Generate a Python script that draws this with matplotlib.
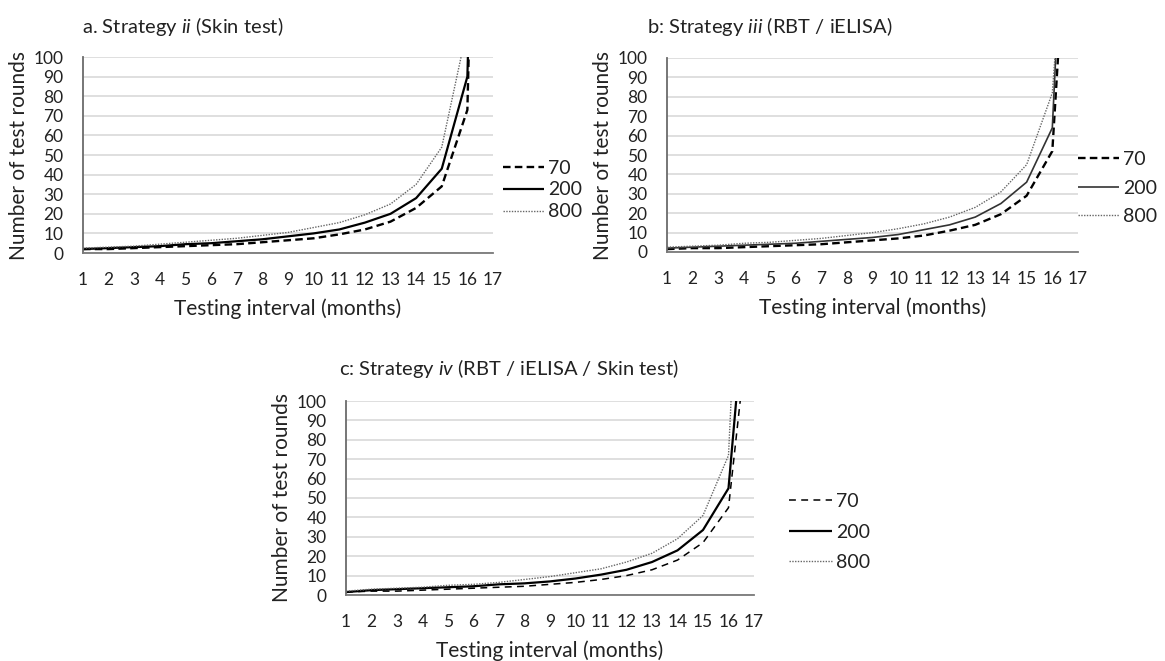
import numpy as np
import matplotlib.pyplot as plt

plt.rcParams['font.family'] = ['Lato', 'DejaVu Sans']
plt.rcParams['mathtext.fontset'] = 'custom'
plt.rcParams['mathtext.rm'] = 'Lato'
plt.rcParams['mathtext.it'] = 'Lato:italic'

# testing interval (months); last point is the off-scale tail past 16
months = [1, 2, 3, 4, 5, 6, 7, 8, 9, 10, 11, 12, 13, 14, 15, 16, 16.5]
xticks = list(range(1, 18))
series_labels = ['70', '200', '800']

# a. Strategy ii (Skin test)
a_70 = [2, 2, 2.5, 3, 3.5, 4, 4.5, 5.5, 6.5, 7.5, 9.5, 12, 16, 23, 34, 73, 343]
a_200 = [2, 2.5, 3, 3.5, 4.5, 5, 6, 7, 8.5, 10, 12, 15.5, 20, 28, 43, 90, 340]
a_800 = [2.5, 3, 3.5, 4.5, 5.5, 6.5, 7.5, 9, 10.5, 13, 15.5, 19.5, 25, 35, 54, 115, 400]

# b: Strategy iii (RBT / iELISA)
b_70 = [1.5, 2, 2, 2.5, 3, 3.5, 4, 5, 6, 7, 8.5, 11, 14, 19.5, 29, 52, 161]
b_200 = [2, 2.5, 3, 3.5, 4, 4.5, 5.5, 6.5, 7.5, 9, 11.5, 14, 18, 25, 36, 64, 202]
b_800 = [2.5, 3, 3.5, 4.5, 5, 6, 7, 8.5, 10, 12, 14.5, 18, 23, 31, 45, 82, 172]

# c: Strategy iv (RBT / iELISA / Skin test)
c_70 = [1.5, 2, 2, 2.5, 3, 3.5, 4, 4.5, 5.5, 6.5, 8, 10, 13, 18, 27, 45, 105]
c_200 = [1.5, 2.5, 3, 3.5, 4, 4.5, 5.5, 6, 7, 8.5, 10.5, 13, 17, 23, 33.5, 55, 130]
c_800 = [2, 3, 3.5, 4, 5, 5.5, 6.5, 8, 9.5, 11.5, 13.5, 17, 21.5, 29, 41, 72, 212]

W, H = 1165, 661
fig = plt.figure(figsize=(W / 100, H / 100), dpi=100)
fig.patch.set_facecolor('white')


def px_axes(left, right, top, bottom):
    return fig.add_axes([left / W, 1 - bottom / H, (right - left) / W, (bottom - top) / H])


def draw_panel(ax, ys, styles):
    for y, lab, st in zip(ys, series_labels, styles):
        ax.plot(months, y, label=lab, solid_capstyle='butt', **st)
    ax.set_xlim(1, 17)
    ax.set_ylim(0, 100)
    ax.set_xticks(xticks)
    ax.set_yticks(np.arange(0, 101, 10))
    ax.grid(axis='y', color='#d9d9d9', lw=1.2)
    ax.set_axisbelow(True)
    for s in ['top', 'right']:
        ax.spines[s].set_visible(False)
    ax.spines['left'].set_color('#6b6b6b')
    ax.spines['bottom'].set_color('#7a7a7a')
    ax.spines['left'].set_linewidth(1.3)
    ax.spines['bottom'].set_linewidth(1.3)
    ax.tick_params(axis='both', length=0, labelsize=12.5, colors='#222222')
    ax.tick_params(axis='x', pad=14)
    ax.tick_params(axis='y', pad=14)
    ax.set_xlabel('Testing interval (months)', fontsize=15, color='#222222', labelpad=7)
    ax.set_ylabel('Number of test rounds', fontsize=15, color='#222222')
    ax.yaxis.set_label_coords(-0.132, 0.5)


dash_thick = dict(color='black', lw=1.7, dashes=(3.2, 1.8))
dash_thin = dict(color='black', lw=1.1, dashes=(4.5, 3.5))
solid = dict(color='black', lw=1.6)
solid_grey = dict(color='#333333', lw=1.2)
dotted = dict(color='#666666', lw=1.0, dashes=(1, 1))

ax_a = px_axes(83, 493, 57, 253)
draw_panel(ax_a, [a_70, a_200, a_800], [dash_thick, solid, dotted])
ax_b = px_axes(667, 1078, 58, 252)
draw_panel(ax_b, [b_70, b_200, b_800], [dash_thick, solid_grey, dotted])
ax_c = px_axes(346, 754, 401, 595)
draw_panel(ax_c, [c_70, c_200, c_800], [dash_thin, solid, dotted])

fig.text(82 / W, 1 - 27 / H, r'a. Strategy $\mathit{ii}$ (Skin test)', fontsize=14.5,
         va='center', ha='left', color='#222222')
fig.text(647 / W, 1 - 27 / H, r'b: Strategy $\mathit{iii}$ (RBT / iELISA)', fontsize=14.5,
         va='center', ha='left', color='#222222')
fig.text(339 / W, 1 - 368 / H, r'c: Strategy $\mathit{iv}$ (RBT / iELISA / Skin test)', fontsize=14.5,
         va='center', ha='left', color='#222222')

# legends, right of each panel
for ax, x0, yc, hl, sp in [(ax_a, 503, 190, 2.1, 0.25), (ax_b, 1078, 188, 2.1, 0.6),
                           (ax_c, 789, 532, 2.2, 0.7)]:
    ax.legend(loc='center left', bbox_to_anchor=(x0 / W, 1 - yc / H),
              bbox_transform=fig.transFigure, frameon=False, fontsize=14,
              handlelength=hl, handletextpad=0.2, labelspacing=sp, borderpad=0,
              borderaxespad=0, labelcolor='#222222')

fig.savefig('out.png', dpi=100)
